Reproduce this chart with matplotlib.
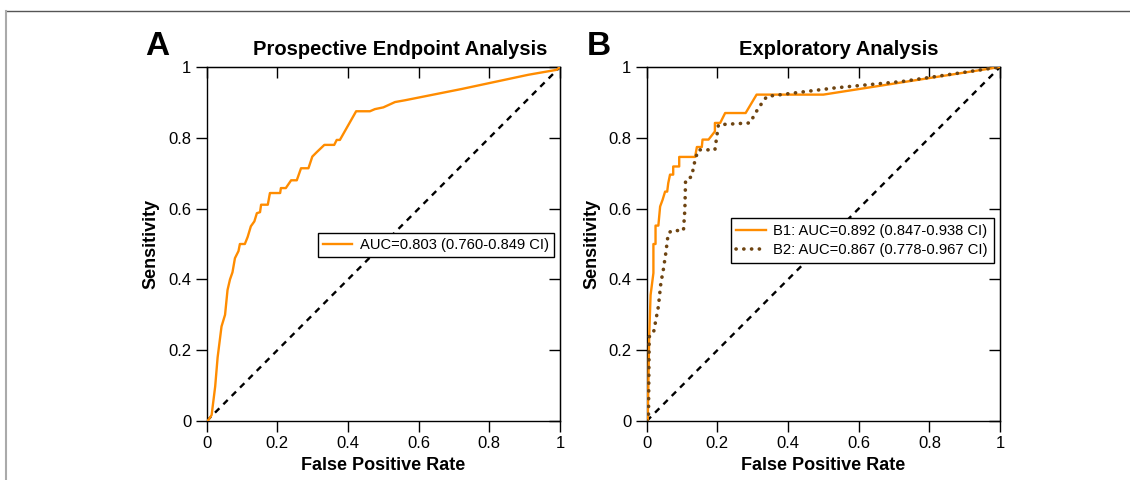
import numpy as np
import matplotlib
matplotlib.use("Agg")
import matplotlib.pyplot as plt
from matplotlib.lines import Line2D

plt.rcParams['font.family'] = ['Liberation Sans', 'DejaVu Sans']

ORANGE = '#FF8C00'
BROWN = '#6E4411'

# Panel A ROC curve
a_fpr = [0.0, 0.005, 0.014, 0.024, 0.031, 0.042, 0.052, 0.059, 0.066, 0.073, 0.08,
         0.09, 0.094, 0.108, 0.116, 0.125, 0.135, 0.142, 0.151, 0.154, 0.173, 0.179,
         0.208, 0.21, 0.224, 0.239, 0.255, 0.267, 0.288, 0.299, 0.311, 0.333, 0.361,
         0.368, 0.377, 0.423, 0.462, 0.476, 0.50, 0.533, 0.561, 0.722, 0.91, 0.99, 1.0]
a_tpr = [0.0, 0.003, 0.017, 0.097, 0.18, 0.267, 0.30, 0.37, 0.40, 0.42, 0.46,
         0.48, 0.50, 0.50, 0.52, 0.55, 0.564, 0.587, 0.59, 0.611, 0.611, 0.644,
         0.644, 0.658, 0.658, 0.68, 0.68, 0.714, 0.714, 0.747, 0.759, 0.78, 0.78,
         0.794, 0.794, 0.875, 0.875, 0.881, 0.886, 0.901, 0.906, 0.938, 0.978, 0.992, 1.0]
a_label = 'AUC=0.803 (0.760-0.849 CI)'

# Panel B, B1
b1_fpr = [0.0, 0.003, 0.007, 0.011, 0.019, 0.019, 0.025, 0.025, 0.033, 0.038, 0.045,
          0.052, 0.058, 0.061, 0.066, 0.075, 0.075, 0.092, 0.092, 0.137, 0.142, 0.156,
          0.158, 0.175, 0.193, 0.193, 0.208, 0.222, 0.28, 0.311, 0.50, 1.0]
b1_tpr = [0.0, 0.003, 0.238, 0.356, 0.418, 0.50, 0.50, 0.552, 0.552, 0.606, 0.625,
          0.648, 0.648, 0.672, 0.696, 0.696, 0.719, 0.719, 0.746, 0.746, 0.774, 0.774,
          0.795, 0.795, 0.818, 0.842, 0.842, 0.87, 0.87, 0.922, 0.922, 1.0]
b1_label = 'B1: AUC=0.892 (0.847-0.938 CI)'

# Panel B, B2
b2_fpr = [0.0, 0.005, 0.007, 0.019, 0.033, 0.04, 0.047, 0.054, 0.061, 0.071, 0.104,
          0.108, 0.11, 0.127, 0.137, 0.146, 0.193, 0.203, 0.292, 0.316, 0.34, 0.533,
          0.722, 1.0]
b2_tpr = [0.0, 0.003, 0.238, 0.248, 0.323, 0.389, 0.427, 0.474, 0.53, 0.538, 0.538,
          0.597, 0.681, 0.69, 0.738, 0.766, 0.766, 0.837, 0.842, 0.884, 0.917, 0.941,
          0.959, 1.0]
b2_label = 'B2: AUC=0.867 (0.778-0.967 CI)'

ticks = [0, 0.2, 0.4, 0.6, 0.8, 1]
tick_labels = ['0', '0.2', '0.4', '0.6', '0.8', '1']

fig = plt.figure(figsize=(11.3, 4.8), dpi=100)
axA = fig.add_axes([0.1829, 0.1229, 0.3127, 0.7375])
axB = fig.add_axes([0.5723, 0.1229, 0.3127, 0.7375])


def style_axes(ax):
    ax.set_xlim(0, 1)
    ax.set_ylim(0, 1)
    ax.set_xticks(ticks)
    ax.set_yticks(ticks)
    ax.set_xticklabels(tick_labels, fontsize=12)
    ax.set_yticklabels(tick_labels, fontsize=12)
    ax.tick_params(axis='both', which='major', direction='out', length=8, width=1,
                   pad=3)
    # mirrored ticks on top / right point inward
    secx = ax.secondary_xaxis('top')
    secx.set_xticks(ticks)
    secx.tick_params(direction='in', length=8, width=1, labeltop=False)
    secy = ax.secondary_yaxis('right')
    secy.set_yticks(ticks)
    secy.tick_params(direction='in', length=8, width=1, labelright=False)
    for s in ax.spines.values():
        s.set_linewidth(1)
    ax.set_xlabel('False Positive Rate', fontsize=13, fontweight='bold', labelpad=4)
    ax.set_ylabel('Sensitivity', fontsize=13, fontweight='bold', labelpad=6)
    ax.plot([0, 1], [0, 1], color='black', linestyle=(0, (2.6, 2.4)), linewidth=1.7,
            zorder=2)


style_axes(axA)
axA.plot(a_fpr, a_tpr, color=ORANGE, linewidth=1.7, label=a_label, zorder=3)
legA = axA.legend(loc='center right', bbox_to_anchor=(0.982, 0.497), fontsize=10.6,
                  fancybox=False, edgecolor='black', framealpha=1, handlelength=2.0,
                  borderpad=0.35, handletextpad=0.5, borderaxespad=0)
legA.get_frame().set_linewidth(1)

style_axes(axB)
axB.plot(b1_fpr, b1_tpr, color=ORANGE, linewidth=1.7, label=b1_label, zorder=3)
axB.plot(b2_fpr, b2_tpr, color=BROWN, linewidth=2.6, linestyle=(0, (0.05, 2.1)),
         dash_capstyle='round', solid_capstyle='round', label=b2_label, zorder=3)
legB = axB.legend(loc='center right', bbox_to_anchor=(0.982, 0.51), fontsize=10.6,
                  fancybox=False, edgecolor='black', framealpha=1, handlelength=2.0,
                  borderpad=0.4, handletextpad=0.5, labelspacing=0.35,
                  borderaxespad=0)
legB.get_frame().set_linewidth(1)

# panel letters and titles
fig.text(145 / 1130, 1 - 55 / 480, 'A', fontsize=24, fontweight='bold',
         ha='left', va='baseline')
fig.text(587 / 1130, 1 - 55 / 480, 'B', fontsize=24, fontweight='bold',
         ha='left', va='baseline')
fig.text(400 / 1130, 1 - 55 / 480, 'Prospective Endpoint Analysis', fontsize=14.5,
         fontweight='bold', ha='center', va='baseline')
fig.text(839 / 1130, 1 - 55 / 480, 'Exploratory Analysis', fontsize=14.5,
         fontweight='bold', ha='center', va='baseline')

# outer frame (top and left edges)
fig.add_artist(Line2D([6 / 1130, 1], [1 - 11 / 480, 1 - 11 / 480],
                      transform=fig.transFigure, color='#555555', linewidth=1))
fig.add_artist(Line2D([6 / 1130, 6 / 1130], [0, 1 - 11 / 480],
                      transform=fig.transFigure, color='#aaaaaa', linewidth=1.5))

fig.savefig('out.png', dpi=100)
